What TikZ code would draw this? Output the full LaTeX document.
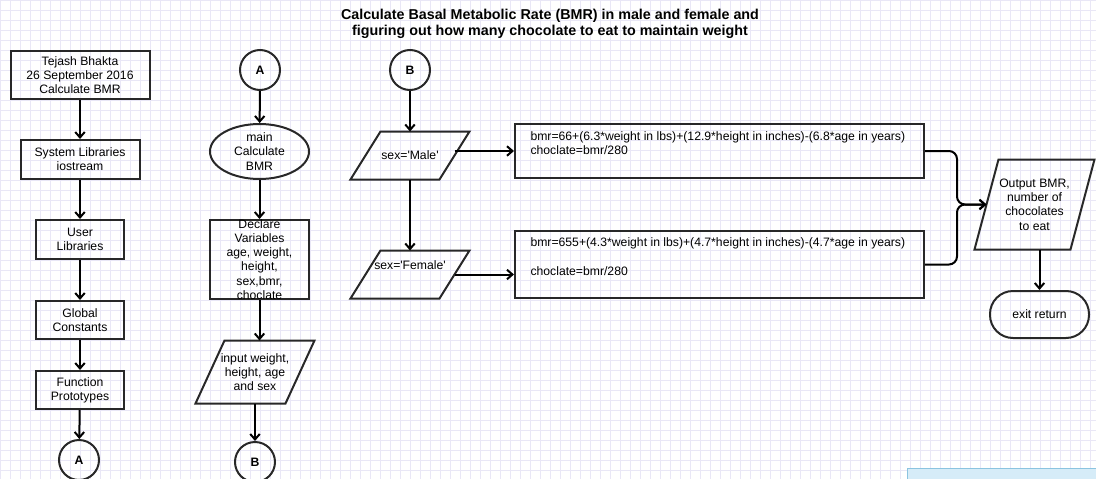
\documentclass[tikz,border=0pt]{standalone}
\usepackage{fontspec}
\setmainfont{Liberation Sans}
\usetikzlibrary{positioning,shapes.geometric,arrows.meta}
\definecolor{gridcol}{RGB}{233,231,246}
\definecolor{edgecol}{RGB}{40,40,40}
\definecolor{bannerfill}{RGB}{214,236,248}
\definecolor{bannerline}{RGB}{140,196,224}

% parallelogram round an io node: name, half of the slant
\newcommand{\DrawIO}[2]{
	\draw[edgecol, line width=2pt, line join=miter] ([xshift=-#2pt]#1.south west) -- ([xshift=#2pt]#1.north west) -- ([xshift=#2pt]#1.north east) -- ([xshift=-#2pt]#1.south east) -- cycle;
}

\begin{document}
\begin{tikzpicture}[x=1pt, y=-1pt,
  every node/.style={font=\fontsize{12.2}{14.2}\selectfont},
  box/.style={rectangle, draw=edgecol, line width=2pt, align=center, inner sep=2pt},
  conn/.style={circle, draw=edgecol, line width=2pt, minimum size=40pt, inner sep=0pt, font=\fontsize{12.2}{14}\selectfont\bfseries},
  io/.style={rectangle, align=center, inner sep=1pt, outer sep=0pt},
  flow/.style={draw=black, line width=2pt, -{Straight Barb[length=5.5pt, width=9.5pt]}},
]

\useasboundingbox (0,0) rectangle (1096,479);

% grid paper
\foreach \gx in {0,10,...,1090}
	\draw[gridcol, line width=0.8pt] (\gx,0) -- (\gx,479);
\foreach \gy in {0,10,...,470}
	\draw[gridcol, line width=0.8pt] (0,\gy) -- (1096,\gy);

\node (title) at (550, 24) [align=center, font=\fontsize{14.3}{16}\selectfont\bfseries] {Calculate Basal Metabolic Rate (BMR) in male and female and\\figuring out how many chocolate to eat to maintain weight};

\node (tejash) at (80, 75) [box, minimum width=139pt, minimum height=48pt] {Tejash Bhakta\\26 September 2016\\Calculate BMR};
\node (syslib) at (80, 159.5) [box, minimum width=119pt, minimum height=39pt] {System Libraries\\iostream};
\node (userlib) at (80, 239.5) [box, minimum width=88pt, minimum height=39pt] {User\\Libraries};
\node (globconst) at (80, 320) [box, minimum width=88pt, minimum height=38pt] {Global\\Constants};
\node (funcproto) at (80, 390) [box, minimum width=88pt, minimum height=38pt] {Function\\Prototypes};
\node (connAout) at (79, 460) [conn] {A};

\node (connAin) at (260, 70) [conn] {A};
\node (mainfn) at (259.5, 151.5) [ellipse, draw=edgecol, line width=2pt, align=center, inner sep=0pt, minimum width=99pt, minimum height=55pt] {main\\Calculate\\BMR};
\node (declare) at (259.5, 259.5) [box, minimum width=99pt, minimum height=79pt, label={[align=center]center:Declare\\Variables\\age, weight,\\height,\\sex,bmr,\\choclate}] {};
\node (input) at (255, 372) [io, minimum width=90pt, minimum height=63pt] {input weight,\\height, age\\and sex};
\DrawIO{input}{14.5}
\node (connBout) at (255, 462) [conn] {B};

\node (connBin) at (410, 70) [conn] {B};
\node (male) at (410, 155.5) [io, minimum width=89pt, minimum height=48pt] {sex=\textquotesingle Male\textquotesingle};
\DrawIO{male}{15}
\node (female) at (410, 274.5) [io, minimum width=89pt, minimum height=48pt] {sex=\textquotesingle Female\textquotesingle\\[4pt]};
\DrawIO{female}{15}

\node (mbox) at (719.5, 151) [box, minimum width=409pt, minimum height=54pt] {};
\node (mtext) [below right=5pt and 13pt of mbox.north west, align=left] {bmr=66+(6.3*weight in lbs)+(12.9*height in inches)-(6.8*age in years)\\choclate=bmr/280};
\node (fbox) at (719.5, 264.5) [box, minimum width=409pt, minimum height=67pt] {};
\node (ftext) [below right=4pt and 13pt of fbox.north west, align=left] {bmr=655+(4.3*weight in lbs)+(4.7*height in inches)-(4.7*age in years)\\[14.5pt]choclate=bmr/280};

\node (output) at (1034.5, 204.5) [io, minimum width=96pt, minimum height=90pt] {Output BMR,\\number of\\chocolates\\to eat};
\DrawIO{output}{12}
\node (exitret) at (1039.5, 314.5) [rectangle, draw=edgecol, line width=2pt, rounded corners=23pt, minimum width=99pt, minimum height=47pt] {exit return};
\coordinate (merge) at (957, 204.5);

\draw[flow] (tejash) -- (syslib);
\draw[flow] (syslib) -- (userlib);
\draw[flow] (userlib) -- (globconst);
\draw[flow] (globconst) -- (funcproto);
\draw[flow] (funcproto) -- (connAout);

\draw[flow] (connAin) -- (mainfn);
\draw[flow] (mainfn) -- (declare);
\draw[flow] (declare.south) -- (declare.south |- input.north);
\draw[flow] (input.south -| connBout) -- (connBout);

\draw[flow] (connBin) -- (male);
\draw[flow] (male) -- (female);
\draw[flow] (male.east |- mbox.west) -- (mbox.west);
\draw[flow] (female.east) -- (female.east -| fbox.west);

\draw[flow, rounded corners=8pt] (mbox.east) -| (merge) -- (output.west);
\draw[flow, rounded corners=8pt] (fbox.east) -| (merge) -- (output.west);
\draw[flow] (output.south -| exitret) -- (exitret);

\filldraw[fill=bannerfill, draw=bannerline, line width=0.8pt] (907, 468) rectangle (1100, 485);

\end{tikzpicture}
\end{document}
